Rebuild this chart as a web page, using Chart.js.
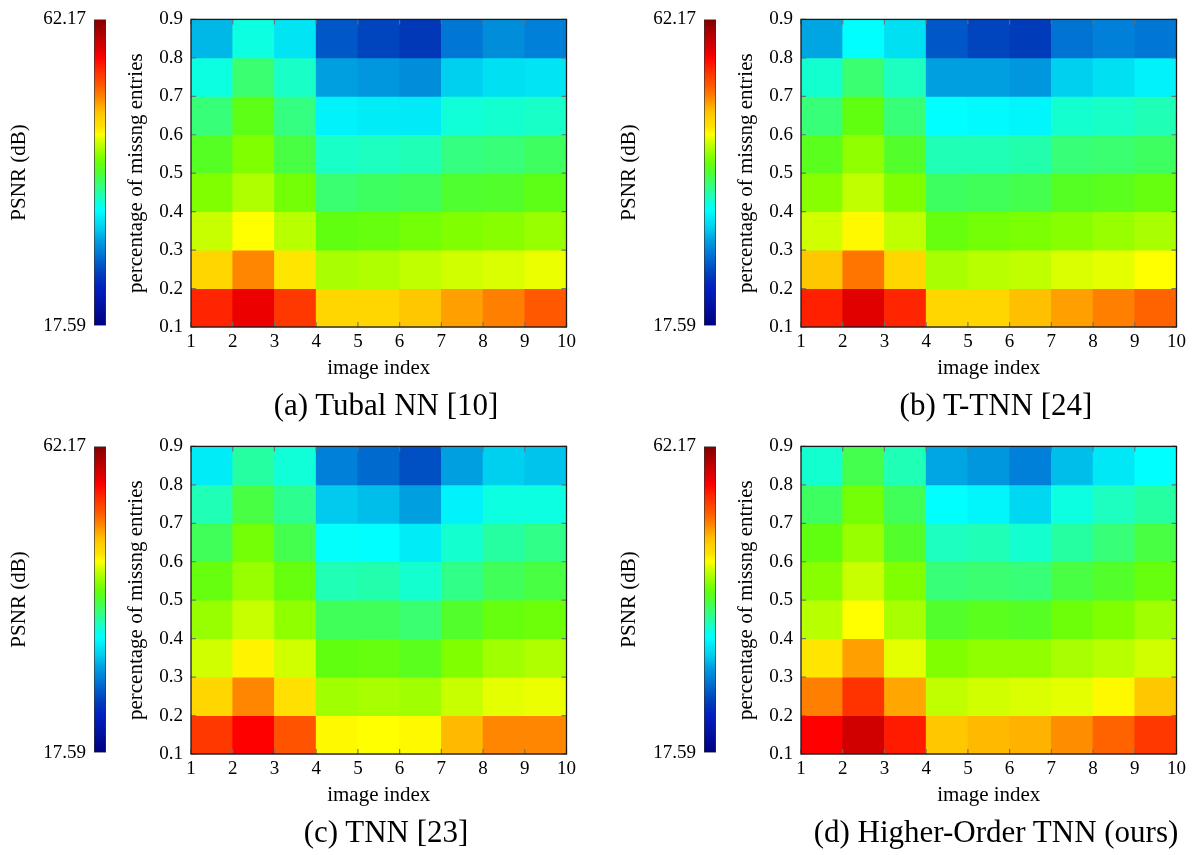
<!DOCTYPE html>
<html>
<head>
<meta charset="utf-8">
<script src="https://cdn.jsdelivr.net/npm/chart.js@4.4.1/dist/chart.umd.min.js"></script>
<style>
  body { margin: 0; background: #fff; }
  #page { position: relative; width: 1197px; height: 855px; overflow: hidden; font-family: 'Liberation Serif', serif; }
  canvas { position: absolute; }
  .caption { position: absolute; width: 600px; text-align: center; font-size: 31px; line-height: 36px; color: #000; white-space: nowrap; }
</style>
</head>
<body>
<div id="page"></div>
<script>
// colour scale limits (dB)
const psnrMin = 17.59;
const psnrMax = 62.17;

const imageIndex = [1, 2, 3, 4, 5, 6, 7, 8, 9, 10];
const missingRates = [0.1, 0.2, 0.3, 0.4, 0.5, 0.6, 0.7, 0.8, 0.9];
const captions = ['(a) Tubal NN [10]', '(b) T-TNN [24]', '(c) TNN [23]', '(d) Higher-Order TNN (ours)'];

// rows: missing rate 0.1 -> 0.8, columns: image 1 -> 9
const psnrTubalNN = [
    [55.04, 57.27, 54.15, 47.46, 47.46, 48.35, 49.91, 51.03, 52.59],
    [47.46, 50.80, 46.34, 43.22, 43.45, 43.89, 44.34, 44.56, 45.01],
    [44.11, 45.45, 43.67, 40.99, 41.22, 41.66, 42.11, 42.33, 42.78],
    [42.11, 43.45, 41.66, 38.32, 38.77, 38.99, 39.88, 40.10, 40.77],
    [40.33, 42.11, 39.43, 36.09, 36.31, 36.54, 37.87, 38.10, 38.77],
    [38.10, 40.77, 37.87, 33.64, 33.42, 33.28, 35.64, 35.87, 36.09],
    [35.42, 38.32, 36.09, 30.07, 29.63, 29.18, 31.86, 32.75, 32.97],
    [30.96, 35.42, 32.97, 26.51, 25.39, 24.72, 28.07, 29.18, 28.51]
];
const psnrTTNN = [
    [55.26, 57.71, 55.04, 47.46, 47.46, 48.80, 49.91, 51.03, 52.14],
    [48.35, 51.47, 47.46, 43.22, 43.67, 43.89, 44.56, 44.78, 45.45],
    [44.34, 45.68, 43.89, 41.22, 41.66, 41.89, 42.33, 42.78, 43.22],
    [42.33, 43.89, 42.11, 38.77, 38.99, 39.21, 40.33, 40.55, 41.22],
    [40.55, 42.55, 40.10, 36.54, 36.54, 36.76, 38.10, 38.32, 38.77],
    [38.10, 40.99, 38.10, 34.31, 34.08, 33.86, 35.87, 36.09, 36.54],
    [35.87, 38.32, 36.31, 30.07, 30.07, 29.63, 31.86, 32.75, 33.64],
    [30.30, 34.31, 32.75, 26.51, 25.39, 24.95, 27.84, 28.51, 28.07]
];
const psnrTNN = [
    [54.15, 56.60, 52.81, 45.68, 45.45, 45.68, 49.02, 50.80, 50.80],
    [47.46, 50.80, 46.57, 43.00, 43.22, 43.00, 44.11, 44.78, 45.01],
    [44.34, 45.90, 44.34, 40.99, 41.22, 40.55, 42.11, 43.00, 43.45],
    [42.78, 44.11, 42.55, 38.99, 38.99, 38.32, 40.10, 41.22, 41.44],
    [41.22, 42.78, 41.22, 36.54, 36.76, 35.87, 37.65, 38.99, 39.43],
    [38.99, 41.66, 39.21, 34.53, 34.31, 33.42, 35.87, 36.98, 37.65],
    [36.54, 39.43, 37.43, 31.63, 31.19, 30.07, 33.64, 35.42, 35.42],
    [33.42, 36.98, 35.64, 28.51, 27.40, 26.06, 30.07, 31.86, 31.41]
];
const psnrHOTNN = [
    [56.60, 58.60, 55.48, 48.35, 49.02, 49.24, 50.58, 52.14, 54.15],
    [51.03, 54.37, 49.69, 43.89, 44.34, 44.56, 44.78, 45.68, 48.35],
    [46.34, 49.91, 44.78, 42.11, 42.55, 42.55, 43.22, 43.67, 44.34],
    [43.67, 45.45, 43.22, 40.10, 40.55, 40.33, 41.44, 42.11, 43.00],
    [42.33, 44.11, 42.11, 38.10, 38.32, 38.10, 39.43, 40.10, 41.22],
    [40.99, 42.78, 40.10, 36.31, 36.54, 35.87, 36.98, 38.10, 39.43],
    [38.77, 41.66, 38.99, 34.31, 33.86, 32.30, 35.42, 36.31, 36.98],
    [35.87, 39.21, 36.54, 30.30, 29.63, 28.51, 31.19, 33.19, 34.31]
];

// jet-like colormap as it looks in the figure
const jetStops = [
    [0.000, '#000080'], [0.125, '#0020C0'], [0.160, '#0038B8'], [0.200, '#0058C8'],
    [0.245, '#0080D8'], [0.280, '#00A0E0'], [0.300, '#00B8E8'], [0.320, '#00D0F0'],
    [0.345, '#00E4F4'], [0.375, '#00FFFF'], [0.400, '#0CFFE0'], [0.420, '#1CFFC0'],
    [0.440, '#28FF98'], [0.460, '#38FF78'], [0.480, '#40FF58'], [0.500, '#50FF30'],
    [0.525, '#60FF10'], [0.550, '#80FF00'], [0.575, '#A8FF00'], [0.600, '#D0FF00'],
    [0.625, '#FFFF00'], [0.650, '#FFE000'], [0.670, '#FFD600'], [0.700, '#FFC000'],
    [0.725, '#FFA000'], [0.750, '#FF8000'], [0.785, '#FF5800'], [0.820, '#FF3800'],
    [0.845, '#FF2000'], [0.875, '#FF0000'], [0.900, '#E00000'], [0.920, '#D00000'],
    [1.000, '#800000']
];

Chart.defaults.font.family = "'Liberation Serif', serif";
Chart.defaults.color = '#000';

function hexToRgb(h) {
    return [parseInt(h.slice(1, 3), 16), parseInt(h.slice(3, 5), 16), parseInt(h.slice(5, 7), 16)];
}

function jetColor(v) {
    const t = Math.max(0, Math.min(1, (v - psnrMin) / (psnrMax - psnrMin)));
    for (let i = 1; i < jetStops.length; i++) {
        if (t <= jetStops[i][0]) {
            const [t0, c0] = jetStops[i - 1];
            const [t1, c1] = jetStops[i];
            const f = (t - t0) / (t1 - t0);
            const a = hexToRgb(c0), b = hexToRgb(c1);
            const rgb = a.map((x, k) => Math.round(x + (b[k] - x) * f));
            return `rgb(${rgb[0]}, ${rgb[1]}, ${rgb[2]})`;
        }
    }
    return jetStops[jetStops.length - 1][1];
}

// black box round the plot plus small grey inner ticks like pgfplots
const framePlugin = {
    id: 'frame',
    afterDraw(chart) {
        const {ctx, chartArea: a, scales} = chart;
        ctx.save();
        if (scales.x && scales.x.options.display !== false) {
            ctx.strokeStyle = 'rgba(110,110,110,0.9)';
            ctx.lineWidth = 1.2;
            scales.x.ticks.forEach(t => {
                const px = scales.x.getPixelForValue(t.value);
                ctx.beginPath();
                ctx.moveTo(px, a.bottom); ctx.lineTo(px, a.bottom - 5);
                ctx.moveTo(px, a.top); ctx.lineTo(px, a.top + 5);
                ctx.stroke();
            });
            scales.y.ticks.forEach(t => {
                const py = scales.y.getPixelForValue(t.value);
                ctx.beginPath();
                ctx.moveTo(a.left, py); ctx.lineTo(a.left + 5, py);
                ctx.moveTo(a.right, py); ctx.lineTo(a.right - 5, py);
                ctx.stroke();
            });
        }
        ctx.strokeStyle = '#1a1a1a';
        ctx.lineWidth = 1.3;
        ctx.strokeRect(a.left, a.top, a.right - a.left, a.bottom - a.top);
        ctx.restore();
    }
};

function makeCanvas(left, top, w, h) {
    const c = document.createElement('canvas');
    c.width = w; c.height = h;
    c.style.left = left + 'px';
    c.style.top = top + 'px';
    c.style.width = w + 'px';
    c.style.height = h + 'px';
    document.getElementById('page').appendChild(c);
    return c;
}

function drawColorbar(ox, oy) {
    const canvas = makeCanvas(ox, oy, 110, 345);
    new Chart(canvas, {
        type: 'bar',
        data: {
            labels: ['PSNR'],
            datasets: [{
                data: [[psnrMin, psnrMax]],
                barPercentage: 1,
                categoryPercentage: 1,
                borderWidth: 1,
                borderColor: '#333',
                borderSkipped: false,
                backgroundColor: function(context) {
                    const area = context.chart.chartArea;
                    if (!area) return null;
                    const g = context.chart.ctx.createLinearGradient(0, area.bottom, 0, area.top);
                    jetStops.forEach(s => g.addColorStop(s[0], s[1]));
                    return g;
                }
            }]
        },
        options: {
            responsive: false,
            animation: false,
            devicePixelRatio: 1,
            layout: { padding: { top: 14, right: 4, bottom: 18, left: 0 } },
            plugins: { legend: { display: false }, tooltip: { enabled: false } },
            scales: {
                x: { display: false },
                y: {
                    min: psnrMin,
                    max: psnrMax,
                    beginAtZero: false,
                    bounds: 'data',
                    afterBuildTicks: s => { s.ticks = [{ value: psnrMin }, { value: psnrMax }]; },
                    afterFit: s => { s.width = 94; },
                    grid: { display: false, drawTicks: false },
                    border: { display: false },
                    ticks: { padding: 8, font: { size: 19 }, callback: v => v.toFixed(2) },
                    title: { display: true, text: 'PSNR (dB)', font: { size: 21 }, padding: { top: 7, bottom: 0 } }
                }
            }
        }
    });
}

function drawHeatmap(ox, oy, matrix) {
    const cells = [];
    const colors = [];
    matrix.forEach((row, r) => {
        row.forEach((v, c) => {
            cells.push({ x: (imageIndex[c] + imageIndex[c + 1]) / 2, y: [missingRates[r], missingRates[r + 1]] });
            colors.push(jetColor(v));
        });
    });

    const gridColor = 'rgba(60,60,60,0.22)';
    const canvas = makeCanvas(ox + 100, oy, 480, 390);
    new Chart(canvas, {
        type: 'bar',
        data: {
            datasets: [{
                data: cells,
                backgroundColor: colors,
                borderWidth: 0,
                barPercentage: 1,
                categoryPercentage: 1
            }]
        },
        options: {
            responsive: false,
            animation: false,
            devicePixelRatio: 1,
            layout: { padding: { top: 14, right: 12, left: 0, bottom: 0 } },
            plugins: { legend: { display: false }, tooltip: { enabled: false } },
            scales: {
                x: {
                    type: 'linear',
                    min: imageIndex[0],
                    max: imageIndex[imageIndex.length - 1],
                    offset: false,
                    bounds: 'data',
                    z: 1,
                    afterBuildTicks: s => { s.ticks = imageIndex.map(v => ({ value: v })); },
                    afterFit: s => { s.height = 63; },
                    grid: { offset: false, drawTicks: false, color: gridColor },
                    border: { display: false },
                    ticks: { padding: 4, autoSkip: false, maxRotation: 0, font: { size: 19 }, callback: v => String(v) },
                    title: { display: true, text: 'image index', font: { size: 21 }, padding: { top: 0, bottom: 9 } }
                },
                y: {
                    type: 'linear',
                    min: missingRates[0],
                    max: missingRates[missingRates.length - 1],
                    beginAtZero: false,
                    bounds: 'data',
                    z: 1,
                    afterBuildTicks: s => { s.ticks = missingRates.map(v => ({ value: v })); },
                    afterFit: s => { s.width = 91; },
                    grid: { drawTicks: false, color: gridColor },
                    border: { display: false },
                    ticks: { padding: 8, autoSkip: false, font: { size: 19 }, callback: v => v.toFixed(1) },
                    title: { display: true, text: 'percentage of missng entries', font: { size: 21 }, padding: { top: 24, bottom: 0 } }
                }
            }
        },
        plugins: [framePlugin]
    });
}

function drawCaption(ox, oy, text) {
    const d = document.createElement('div');
    d.className = 'caption';
    d.textContent = text;
    d.style.left = (ox + 386 - 300) + 'px';
    d.style.top = (oy + 405 - 18) + 'px';
    document.getElementById('page').appendChild(d);
}

const panelData = [psnrTubalNN, psnrTTNN, psnrTNN, psnrHOTNN];
const panelOffsets = [[0, 0], [610, 0], [0, 427], [610, 427]];

panelData.forEach((m, i) => {
    const [ox, oy] = panelOffsets[i];
    drawColorbar(ox, oy);
    drawHeatmap(ox, oy, m);
    drawCaption(ox, oy, captions[i]);
});
</script>
</body>
</html>
